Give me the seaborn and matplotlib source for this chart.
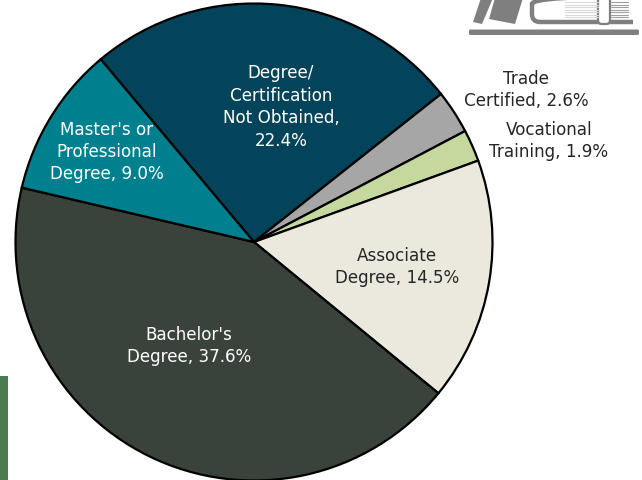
import matplotlib
matplotlib.use("Agg")
import matplotlib.pyplot as plt
from matplotlib.patches import Polygon, Rectangle, FancyBboxPatch
import seaborn as sns

categories = ["Degree/\nCertification\nNot Obtained,\n22.4%", "Trade\nCertified, 2.6%", "Vocational\nTraining, 1.9%",
              "Associate\nDegree, 14.5%", "Bachelor's\nDegree, 37.6%", "Master's or\nProfessional\nDegree, 9.0%"]
shares = [22.4, 2.6, 1.9, 14.5, 37.6, 9.0]
slice_colors = ["#04445a", "#a6a6a6", "#c5d89d", "#ebe9dd", "#3a433b", "#00808f"]
text_colors = ["white", "#262626", "#262626", "#262626", "white", "white"]
label_xy = [(281, 107), (526, 90), (549, 141), (397, 267), (189, 346), (107, 152)]

sns.set_theme(style="white")
plt.rcParams["font.family"] = ["DejaVu Sans"]

W, H = 642, 481
fig = plt.figure(figsize=(W / 100, H / 100), dpi=100)
ax = fig.add_axes([0, 0, 1, 1])

ax.pie(shares, colors=slice_colors, startangle=130, counterclock=False,
       center=(254, 238), radius=238.5,
       wedgeprops=dict(edgecolor="black", linewidth=1.6))
ax.set_xlim(0, W)
ax.set_ylim(0, H)
ax.set_aspect("equal")
ax.axis("off")

for text, color, (x, y) in zip(categories, text_colors, label_xy):
    ax.text(x, H - y, text, color=color, fontsize=12.1, ha="center", va="center", linespacing=1.32)

# green strip bottom left
ax.add_patch(Rectangle((0, 0), 8, H - 377, color="#4a7c4f", lw=0))

# book icon top right
grey = "#7f7f7f"
ax.add_patch(FancyBboxPatch((469, H - 36), 170, 5.5, boxstyle="round,pad=0,rounding_size=1.5", color=grey, lw=0))
ax.add_patch(Polygon([(473, H - 23), (482, H - 25), (493, H + 1), (481, H + 1)], color=grey, lw=0))
ax.add_patch(Polygon([(489, H - 20), (515, H - 25), (523, H + 1), (495, H + 1)], color=grey, lw=0))
ax.add_patch(FancyBboxPatch((532, H - 23), 130, 26, boxstyle="round,pad=0,rounding_size=8", fc="none", ec=grey, lw=3.2))
for yy in [3, 5.5, 8, 10.5, 13, 15.5, 18]:
    ax.plot([565, 598], [H - yy, H - yy], color="#d8d8d8", lw=0.8)
    ax.plot([611, 628], [H - yy, H - yy], color="#a0a0a0", lw=0.8)
ax.add_patch(FancyBboxPatch((598, H - 25), 12, 27, boxstyle="round,pad=0,rounding_size=4", fc="white", ec=grey, lw=1.6))
ax.add_patch(Rectangle((633, H - 27), 9, 27, color="white", lw=0))

fig.savefig("out.png", dpi=100)
